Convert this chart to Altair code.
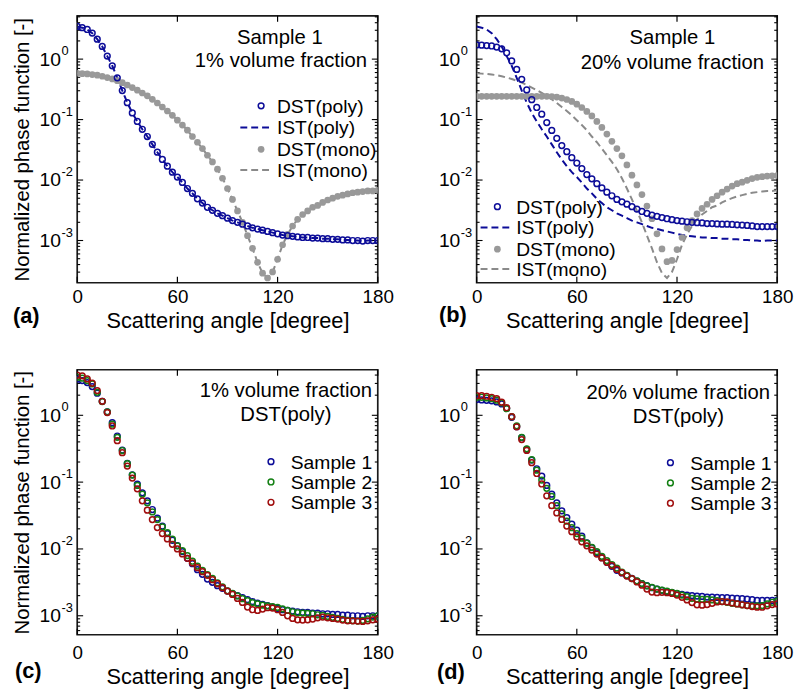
import altair as alt
import pandas as pd

# ---------------- data (log10 of normalized phase function) ----
angles = list(range(0, 181, 3))

ist_poly_log = [0.54, 0.52, 0.49, 0.43, 0.33, 0.21, 0.05, -0.11, -0.31, -0.52, -0.72, -0.89, -1.03, -1.16, -1.28, -1.41,
                -1.54, -1.66, -1.77, -1.87, -1.95, -2.04, -2.14, -2.22, -2.31, -2.38, -2.45, -2.50, -2.55, -2.59, -2.63,
                -2.67, -2.70, -2.73, -2.76, -2.79, -2.81, -2.83, -2.85, -2.87, -2.89,
                -2.91, -2.92, -2.93, -2.94, -2.95, -2.95, -2.96, -2.96, -2.97, -2.97,
                -2.98, -2.98, -2.99, -2.99, -3.00, -3.00, -3.01, -3.00, -3.00, -3.00]
dst_poly_1pct_log = [0.54, 0.52, 0.49, 0.43, 0.33, 0.21, 0.05, -0.11, -0.31, -0.52, -0.72, -0.89, -1.03, -1.16, -1.28, -1.41,
                     -1.54, -1.66, -1.77, -1.87, -1.95, -2.04, -2.14, -2.22, -2.31, -2.38, -2.45, -2.50, -2.55, -2.59, -2.63,
                     -2.67, -2.70, -2.73, -2.76, -2.79, -2.81, -2.83, -2.85, -2.87, -2.89,
                     -2.91, -2.92, -2.93, -2.94, -2.95, -2.95, -2.96, -2.96, -2.97, -2.97,
                     -2.98, -2.98, -2.99, -2.99, -3.00, -3.00, -3.01, -3.00, -3.00, -3.00]
ist_mono_log = [-0.234, -0.24, -0.245, -0.255, -0.266, -0.283, -0.305, -0.328, -0.357, -0.39, -0.428, -0.47, -0.513, -0.56,
                -0.607, -0.665, -0.726, -0.792, -0.858, -0.93, -1.01, -1.09, -1.175, -1.28, -1.375, -1.48, -1.59, -1.70,
                -1.82, -1.97, -2.14,
                -2.32, -2.51, -2.70, -2.92, -3.13, -3.36, -3.54, -3.62, -3.52, -3.31,
                -3.07, -2.90, -2.76, -2.65, -2.57, -2.51, -2.45, -2.42, -2.37, -2.33,
                -2.30, -2.27, -2.25, -2.23, -2.21, -2.20, -2.19, -2.18, -2.18, -2.17]
dst_mono_1pct_log = [-0.234, -0.24, -0.245, -0.255, -0.266, -0.283, -0.305, -0.328, -0.357, -0.39, -0.428, -0.47, -0.513,
                     -0.56, -0.607, -0.665, -0.726, -0.792, -0.858, -0.93, -1.01, -1.09, -1.175, -1.28, -1.375, -1.48,
                     -1.59, -1.70, -1.82, -1.97, -2.14,
                     -2.32, -2.51, -2.70, -2.92, -3.13, -3.36, -3.54, -3.62, -3.52, -3.31,
                     -3.07, -2.90, -2.76, -2.65, -2.57, -2.51, -2.45, -2.42, -2.37, -2.33,
                     -2.30, -2.27, -2.25, -2.23, -2.21, -2.20, -2.19, -2.18, -2.18, -2.17]
dst_poly_20pct_log = [0.235, 0.23, 0.224, 0.217, 0.20, 0.17, 0.105, -0.03, -0.17, -0.335, -0.51, -0.67, -0.80, -0.91, -1.05,
                      -1.18, -1.31, -1.43, -1.53, -1.63, -1.72, -1.81, -1.91, -1.98, -2.06, -2.13, -2.20, -2.26, -2.32,
                      -2.36, -2.40,
                      -2.44, -2.48, -2.52, -2.55, -2.58, -2.60, -2.62, -2.64, -2.655, -2.67,
                      -2.68, -2.69, -2.70, -2.705, -2.71, -2.72, -2.72, -2.725, -2.73, -2.73,
                      -2.735, -2.74, -2.745, -2.75, -2.76, -2.77, -2.77, -2.77, -2.77, -2.77]
dst_mono_20pct_log = [-0.615, -0.615, -0.615, -0.615, -0.615, -0.615, -0.615, -0.615, -0.615, -0.615, -0.615, -0.615,
                      -0.615, -0.615, -0.615, -0.618, -0.628, -0.645, -0.668, -0.70, -0.745, -0.80, -0.865, -0.94, -1.03,
                      -1.13, -1.24, -1.36, -1.48, -1.60, -1.75,
                      -1.92, -2.08, -2.24, -2.43, -2.64, -2.89, -3.14, -3.35, -3.33, -3.15,
                      -2.95, -2.79, -2.67, -2.56, -2.47, -2.40, -2.32, -2.26, -2.20, -2.15,
                      -2.10, -2.06, -2.035, -2.005, -1.975, -1.955, -1.945, -1.935, -1.93, -1.925]
s2_1pct_log = [0.57, 0.555, 0.52, 0.47, 0.344, 0.206, 0.05, -0.133, -0.33, -0.527, -0.723, -0.895, -1.05, -1.18, -1.31,
               -1.446, -1.56, -1.67, -1.755, -1.854, -1.953, -2.027, -2.10, -2.184, -2.257, -2.32, -2.385, -2.44, -2.508,
               -2.567, -2.626,
               -2.665, -2.704, -2.744, -2.773, -2.803, -2.822, -2.842, -2.852, -2.862, -2.876,
               -2.896, -2.921, -2.94, -2.955, -2.96, -2.965, -2.97, -2.985, -2.995, -3.01,
               -3.024, -3.04, -3.054, -3.069, -3.074, -3.079, -3.07, -3.045, -3.02, -3.0]
s3_1pct_log = [0.60, 0.59, 0.545, 0.48, 0.37, 0.21, 0.04, -0.16, -0.38, -0.56, -0.76, -0.94, -1.10, -1.28, -1.42, -1.56,
               -1.68, -1.77, -1.85, -1.93, -2.00, -2.075, -2.14, -2.21, -2.28, -2.34, -2.395, -2.46, -2.52, -2.58, -2.63,
               -2.68, -2.74, -2.80, -2.87, -2.91, -2.92, -2.90, -2.88, -2.885, -2.91,
               -2.95, -3.0, -3.04, -3.06, -3.065, -3.06, -3.05, -3.03, -3.02, -3.03,
               -3.04, -3.05, -3.065, -3.075, -3.075, -3.08, -3.085, -3.075, -3.06, -3.05]
s2_20pct_log = [0.27, 0.27, 0.26, 0.25, 0.226, 0.187, 0.098, -0.02, -0.158, -0.33, -0.502, -0.664, -0.821, -0.969, -1.092,
                -1.215, -1.352, -1.475, -1.584, -1.682, -1.77, -1.839, -1.913, -1.977, -2.041, -2.11, -2.174, -2.233,
                -2.287, -2.346, -2.395,
                -2.444, -2.478, -2.518, -2.552, -2.577, -2.601, -2.615, -2.63, -2.65, -2.665,
                -2.69, -2.714, -2.739, -2.749, -2.754, -2.754, -2.763, -2.773, -2.788, -2.798,
                -2.813, -2.823, -2.837, -2.847, -2.852, -2.852, -2.847, -2.823, -2.798, -2.78]
s3_20pct_log = [0.294, 0.294, 0.285, 0.27, 0.25, 0.197, 0.113, -0.02, -0.172, -0.364, -0.526, -0.709, -0.871, -1.028,
                -1.205, -1.352, -1.461, -1.559, -1.657, -1.741, -1.82, -1.894, -1.953, -2.017, -2.076, -2.135, -2.2,
                -2.249, -2.306, -2.356, -2.405,
                -2.444, -2.493, -2.542, -2.60, -2.645, -2.655, -2.65, -2.655, -2.665, -2.69,
                -2.724, -2.763, -2.803, -2.837, -2.842, -2.832, -2.813, -2.793, -2.788, -2.793,
                -2.808, -2.823, -2.837, -2.847, -2.862, -2.872, -2.872, -2.852, -2.832, -2.823]

x_ticks = [0, 60, 120, 180]
y_major = [0.001, 0.01, 0.1, 1.0]
y_exp = ["-3", "-2", "-1", "0"]
y_minor = [m * 10.0 ** e for e in range(-4, 1) for m in range(2, 10)]

FONT = "Liberation Sans"
BLUE = "#0c0c98"
GREEN = "#138013"
RED = "#a00d0d"
GRAY_DOT = "#999999"
GRAY_LINE = "#8a8a8a"

OPEN_SIZE = 34
OPEN_SW = 1.5
FILL_SIZE = 46


def frame(vals):
    return pd.DataFrame({"x": angles, "y": [10 ** v for v in vals]})


one = pd.DataFrame({"k": [0]})


def panel(W, H, ydom, ytitle, lines, points, legend, notes, label, xlabpad):
    xs = alt.Scale(domain=[0, 180], nice=False, zero=False)
    ys = alt.Scale(type="log", domain=ydom, nice=False)
    xax = alt.Axis(values=x_ticks, ticks=False, domain=False, grid=False, labelFontSize=19, labelPadding=xlabpad,
                   labelFont=FONT, labelColor="black", title="Scattering angle [degree]", titleFontSize=22,
                   titleFont=FONT, titleFontWeight="normal", titleColor="black", titlePadding=4, labelFlush=False)
    ykw = dict(values=y_major, labelExpr="'10'", ticks=False, domain=False, grid=False, labelFontSize=19.5,
               labelPadding=17, labelFont=FONT, labelColor="black")
    if ytitle:
        ykw.update(title=ytitle, titleFontSize=20.5, titleFont=FONT, titleFontWeight="normal", titleColor="black",
                   titlePadding=7)
    else:
        ykw.update(title=None)
    yax = alt.Axis(**ykw)
    X = alt.X("x:Q", scale=xs, axis=xax)
    Y = alt.Y("y:Q", scale=ys, axis=yax)

    layers = []
    # inward ticks on all four sides
    xt = pd.DataFrame({"x": x_ticks})
    layers.append(alt.Chart(xt).mark_rule(color="black", strokeWidth=1.2).encode(
        x=X, y=alt.value(H), y2=alt.value(H - 6)))
    layers.append(alt.Chart(xt).mark_rule(color="black", strokeWidth=1.2).encode(
        x=X, y=alt.value(0), y2=alt.value(6)))
    ym = pd.DataFrame({"y": y_major})
    yn = pd.DataFrame({"y": [v for v in y_minor if ydom[0] < v < ydom[1]]})
    for df, ln in ((ym, 6), (yn, 3)):
        layers.append(alt.Chart(df).mark_rule(color="black", strokeWidth=1.1).encode(
            y=Y, x=alt.value(0), x2=alt.value(ln)))
        layers.append(alt.Chart(df).mark_rule(color="black", strokeWidth=1.1).encode(
            y=Y, x=alt.value(W), x2=alt.value(W - ln)))
    # exponents of y tick labels
    layers.append(alt.Chart(pd.DataFrame({"y": y_major, "e": y_exp})).mark_text(
        align="left", baseline="middle", dy=-8, fontSize=13, font=FONT, color="black").encode(
        y=Y, x=alt.value(-16), text="e:N"))
    # data
    for vals, color, dash in lines:
        layers.append(alt.Chart(frame(vals)).mark_line(color=color, strokeDash=dash, strokeWidth=2, clip=True)
                      .encode(x=X, y=Y))
    for vals, color, filled in points:
        if filled:
            m = alt.Chart(frame(vals)).mark_circle(color=color, size=FILL_SIZE, opacity=1, clip=True)
        else:
            m = alt.Chart(frame(vals)).mark_point(shape="circle", filled=False, color=color, size=OPEN_SIZE,
                                                 strokeWidth=OPEN_SW, opacity=1, clip=True)
        layers.append(m.encode(x=X, y=Y))
    # legend (symbol centred on the row, text on its baseline)
    for item in legend:
        kind, color, text, xs_, xt_, yy = item
        if kind == "open":
            layers.append(alt.Chart(one).mark_point(shape="circle", filled=False, color=color, size=OPEN_SIZE,
                                                    strokeWidth=OPEN_SW, opacity=1)
                          .encode(x=alt.value(xs_), y=alt.value(yy)))
        elif kind == "filled":
            layers.append(alt.Chart(one).mark_circle(color=color, size=FILL_SIZE, opacity=1)
                          .encode(x=alt.value(xs_), y=alt.value(yy)))
        else:
            x0, x1 = xs_
            layers.append(alt.Chart(one).mark_rule(color=color, strokeDash=[7, 4], strokeWidth=2)
                          .encode(x=alt.value(x0), x2=alt.value(x1), y=alt.value(yy)))
        layers.append(alt.Chart(one).mark_text(align="left", baseline="alphabetic", fontSize=19.5, font=FONT,
                                               color="black")
                      .encode(x=alt.value(xt_), y=alt.value(yy + 7), text=alt.value(text)))
    for text, xx, yy in notes:
        layers.append(alt.Chart(one).mark_text(align="center", baseline="alphabetic", fontSize=20.5, font=FONT,
                                               color="black")
                      .encode(x=alt.value(xx), y=alt.value(yy + 7.4), text=alt.value(text)))
    ltxt, lx, ly = label
    layers.append(alt.Chart(one).mark_text(align="left", baseline="alphabetic", fontSize=22, font=FONT,
                                           fontWeight="bold", color="black")
                  .encode(x=alt.value(lx), y=alt.value(ly + 5.7), text=alt.value(ltxt)))
    return alt.layer(*layers).properties(width=W, height=H)


YT = "Normalized phase function [-]"
DASH_B = [7, 4]
DASH_G = [7, 4]

pa = panel(
    304, 270, [2.0e-4, 5.2], YT,
    lines=[(ist_mono_log, GRAY_LINE, DASH_G), (ist_poly_log, BLUE, DASH_B)],
    points=[(dst_mono_1pct_log, GRAY_DOT, True), (dst_poly_1pct_log, BLUE, False)],
    legend=[("open", BLUE, "DST(poly)", 186, 202, 91),
            ("dash", BLUE, "IST(poly)", (165, 196), 202, 113),
            ("filled", GRAY_DOT, "DST(mono)", 186, 202, 135),
            ("dash", GRAY_LINE, "IST(mono)", (165, 196), 202, 156)],
    notes=[("Sample 1", 205, 21), ("1% volume fraction", 206, 44)],
    label=("(a)", -65, 305),
    xlabpad=5,
)

pb = panel(
    304, 270, [2.0e-4, 5.2], None,
    lines=[(ist_mono_log, GRAY_LINE, DASH_G), (ist_poly_log, BLUE, DASH_B)],
    points=[(dst_mono_20pct_log, GRAY_DOT, True), (dst_poly_20pct_log, BLUE, False)],
    legend=[("open", BLUE, "DST(poly)", 21, 40, 193),
            ("dash", BLUE, "IST(poly)", (4, 36), 40, 214),
            ("filled", GRAY_DOT, "DST(mono)", 21, 40, 236),
            ("dash", GRAY_LINE, "IST(mono)", (4, 36), 40, 256)],
    notes=[("Sample 1", 198, 21.5), ("20% volume fraction", 198, 46)],
    label=("(b)", -38, 304),
    xlabpad=5,
)

pc = panel(
    304, 268, [5.2e-4, 4.8], YT,
    lines=[],
    points=[(dst_poly_1pct_log, BLUE, False), (s2_1pct_log, GREEN, False), (s3_1pct_log, RED, False)],
    legend=[("open", BLUE, "Sample 1", 196, 216, 93),
            ("open", GREEN, "Sample 2", 196, 216, 113.5),
            ("open", RED, "Sample 3", 196, 216, 134)],
    notes=[("1% volume fraction", 211, 20), ("DST(poly)", 211, 44)],
    label=("(c)", -63, 306),
    xlabpad=9,
)

pd_ = panel(
    304, 268, [5.2e-4, 4.8], None,
    lines=[],
    points=[(dst_poly_20pct_log, BLUE, False), (s2_20pct_log, GREEN, False), (s3_20pct_log, RED, False)],
    legend=[("open", BLUE, "Sample 1", 196, 216, 94),
            ("open", GREEN, "Sample 2", 196, 216, 114.5),
            ("open", RED, "Sample 3", 196, 216, 135)],
    notes=[("20% volume fraction", 204, 22), ("DST(poly)", 204, 46)],
    label=("(d)", -40, 307),
    xlabpad=9,
)

chart = alt.concat(
    pa, pb, pc, pd_, columns=2, spacing={"row": 88, "column": 100}, bounds="flush"
).properties(
    padding={"left": 3, "top": 2, "right": 0, "bottom": 0},
    background="white",
).configure_view(stroke="#1a1a1a", strokeWidth=1.7)

chart.save("out.html", embed_options={"renderer": "svg", "actions": False})
